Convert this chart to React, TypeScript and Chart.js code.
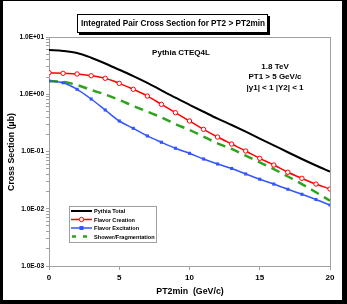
import React, { useEffect, useRef } from 'react';
import { Chart, registerables } from 'chart.js';

Chart.register(...registerables);

const pt2min = [0, 1, 2, 3, 4, 5, 6, 7, 8, 9, 10, 11, 12, 13, 14, 15, 16, 17, 18, 19, 20];
const pythiaTotal = [5.9, 5.7, 5.25, 4.35, 3.45, 2.68, 2.08, 1.58, 1.17, 0.87, 0.655, 0.495, 0.375, 0.29, 0.222, 0.168, 0.128, 0.097, 0.074, 0.057, 0.0445];
const flavorCreation = [2.38, 2.32, 2.26, 2.11, 1.9, 1.55, 1.22, 0.93, 0.667, 0.476, 0.341, 0.244, 0.179, 0.135, 0.102, 0.076, 0.058, 0.0434, 0.034, 0.027, 0.0221];
const flavorExcitation = [1.7, 1.59, 1.22, 0.826, 0.531, 0.341, 0.254, 0.187, 0.145, 0.114, 0.093, 0.074, 0.0605, 0.0505, 0.0405, 0.0328, 0.027, 0.0219, 0.0179, 0.0145, 0.0116];
const showerFragmentation = [1.7, 1.64, 1.45, 1.19, 0.99, 0.794, 0.624, 0.496, 0.395, 0.302, 0.238, 0.182, 0.139, 0.111, 0.0845, 0.0647, 0.0494, 0.0366, 0.027, 0.0194, 0.0138];

const xTicks = [0, 5, 10, 15, 20];
const yDecades = [0.001, 0.01, 0.1, 1, 10];
const yTickLabels = ['1.0E-03', '1.0E-02', '1.0E-01', '1.0E+00', '1.0E+01'];
const yMinorMultipliers = [2, 3, 4, 5, 6, 7, 8, 9];

const seriesNames = ['Pythia Total', 'Flavor Creation', 'Flavor Excitation', 'Shower/Fragmentation'];
const seriesColors = ['#000000', '#ff0000', '#3355ff', '#2ea31e'];

const titleText = 'Integrated Pair Cross Section for PT2 > PT2min';
const xTitle = 'PT2min  (GeV/c)';
const yTitle = 'Cross Section (\u00b5b)';
const modelText = 'Pythia CTEQ4L';
const cutTexts = ['1.8 TeV', 'PT1 > 5 GeV/c', '|y1| < 1 |Y2| < 1'];

const FONT = '"Liberation Sans", Arial, sans-serif';

const decorPlugin = {
  id: 'decor',
  beforeDatasetsDraw(chart: any) {
    const { ctx, chartArea: a } = chart;
    ctx.save();
    ctx.strokeStyle = '#a0a0a0';
    ctx.lineWidth = 1;
    ctx.strokeRect(Math.round(a.left) + 0.5, Math.round(a.top) + 0.5, Math.round(a.right - a.left), Math.round(a.bottom - a.top));
    ctx.restore();
  },
  afterDraw(chart: any) {
    const { ctx } = chart;
    const W = chart.width;
    const H = chart.height;
    ctx.save();
    // outer frame
    ctx.fillStyle = '#000';
    ctx.fillRect(0, 0, W, 1);
    ctx.fillRect(0, 0, 3, H);
    ctx.fillRect(0, H - 4, W, 4);
    ctx.fillRect(W - 5, 0, 5, H);

    // title box
    ctx.fillStyle = '#fff';
    ctx.fillRect(77, 14, 191, 18);
    ctx.strokeStyle = '#000';
    ctx.lineWidth = 1;
    ctx.strokeRect(77.5, 14.5, 190, 18);
    ctx.fillStyle = '#000';
    ctx.fillRect(268, 16, 2, 19);
    ctx.fillRect(79, 33, 191, 2);
    ctx.font = `bold 8.2px ${FONT}`;
    ctx.textAlign = 'center';
    ctx.textBaseline = 'middle';
    ctx.fillText(titleText, 173, 24);

    // annotations
    ctx.font = `bold 8px ${FONT}`;
    ctx.fillText(modelText, 181, 53);
    ctx.fillText(cutTexts[0], 275, 66.5);
    ctx.fillText(cutTexts[1], 275, 77);
    ctx.fillText(cutTexts[2], 275, 88);

    // axis titles
    ctx.font = `bold 8.8px ${FONT}`;
    ctx.fillText(xTitle, 190, 292);
    ctx.save();
    ctx.translate(12, 152);
    ctx.rotate(-Math.PI / 2);
    ctx.fillText(yTitle, 0, 0);
    ctx.restore();

    // legend
    const lx = 69, ly = 206, lw = 87, lh = 36;
    ctx.fillStyle = '#fff';
    ctx.fillRect(lx, ly, lw, lh);
    ctx.strokeStyle = '#a0a0a0';
    ctx.strokeRect(lx + 0.5, ly + 0.5, lw, lh);
    ctx.font = `bold 5.6px ${FONT}`;
    ctx.textAlign = 'left';
    const rows = [211, 219.5, 228, 236.5];
    seriesNames.forEach((name, i) => {
      const y = rows[i];
      ctx.strokeStyle = seriesColors[i];
      ctx.lineWidth = i === 3 ? 2.5 : i === 0 ? 2 : 1.5;
      ctx.setLineDash(i === 3 ? [4, 7] : []);
      ctx.beginPath();
      ctx.moveTo(i === 3 ? 72 : 71, y);
      ctx.lineTo(92, y);
      ctx.stroke();
      ctx.setLineDash([]);
      if (i === 1) {
        ctx.fillStyle = '#fff';
        ctx.lineWidth = 1;
        ctx.beginPath();
        ctx.arc(81.5, y, 2.2, 0, Math.PI * 2);
        ctx.fill();
        ctx.stroke();
      } else if (i === 2) {
        ctx.fillStyle = seriesColors[2];
        ctx.fillRect(79.5, y - 2, 4, 4);
      }
      ctx.fillStyle = '#000';
      ctx.fillText(name, 94, y + 0.5);
    });
    ctx.restore();
  },
};

export default function App() {
  const ref = useRef<HTMLCanvasElement | null>(null);
  useEffect(() => {
    document.body.style.margin = '0';
    const canvas = ref.current;
    if (!canvas) return;
    const mk = (vals: number[]) => pt2min.map((x, i) => ({ x, y: vals[i] }));
    const chart = new Chart(canvas, {
      type: 'line',
      data: {
        datasets: [
          {
            label: seriesNames[0],
            data: mk(pythiaTotal),
            borderColor: seriesColors[0],
            borderWidth: 2,
            pointRadius: 0,
            cubicInterpolationMode: 'monotone',
          },
          {
            label: seriesNames[1],
            data: mk(flavorCreation),
            borderColor: seriesColors[1],
            borderWidth: 1.5,
            pointRadius: 2.2,
            pointStyle: 'circle',
            pointBackgroundColor: '#fff',
            pointBorderColor: seriesColors[1],
            pointBorderWidth: 1,
            cubicInterpolationMode: 'monotone',
          },
          {
            label: seriesNames[2],
            data: mk(flavorExcitation),
            borderColor: seriesColors[2],
            borderWidth: 1.5,
            pointRadius: 2.2,
            pointStyle: 'rect',
            pointBackgroundColor: seriesColors[2],
            pointBorderColor: seriesColors[2],
            pointBorderWidth: 0,
            cubicInterpolationMode: 'monotone',
          },
          {
            label: seriesNames[3],
            data: mk(showerFragmentation),
            borderColor: seriesColors[3],
            borderWidth: 2.5,
            borderDash: [9, 6],
            pointRadius: 0,
            cubicInterpolationMode: 'monotone',
          },
        ],
      },
      options: {
        responsive: false,
        animation: false,
        layout: { padding: { left: 0, right: 17, top: 37, bottom: 0 } },
        plugins: { legend: { display: false }, title: { display: false }, tooltip: { enabled: false } },
        scales: {
          x: {
            type: 'linear',
            min: 0,
            max: 20,
            afterFit: (s: any) => { s.height = 38; },
            afterBuildTicks: (s: any) => { s.ticks = xTicks.map((v) => ({ value: v })); },
            ticks: {
              color: '#000',
              font: { family: FONT, size: 8, weight: 'bold' },
              padding: 3,
              maxRotation: 0,
              autoSkip: false,
            },
            grid: { display: true, drawOnChartArea: false, tickLength: 4, color: '#a0a0a0' },
            border: { color: '#a0a0a0' },
          },
          y: {
            type: 'logarithmic',
            min: 0.001,
            max: 10,
            afterFit: (s: any) => { s.width = 49; },
            afterBuildTicks: (s: any) => {
              const t: any[] = [];
              yDecades.forEach((d, i) => {
                t.push({ value: d, major: true });
                if (i < yDecades.length - 1) yMinorMultipliers.forEach((m) => t.push({ value: d * m, major: false }));
              });
              s.ticks = t;
            },
            ticks: {
              color: '#000',
              font: { family: FONT, size: 6.5, weight: 'bold' },
              padding: 2,
              autoSkip: false,
              callback: (v: any) => {
                const idx = yDecades.findIndex((d) => Math.abs(d - Number(v)) / d < 1e-6);
                return idx >= 0 ? yTickLabels[idx] : '';
              },
            },
            grid: { display: true, drawOnChartArea: false, tickLength: 3, color: '#a0a0a0' },
            border: { color: '#a0a0a0' },
          },
        },
      },
      plugins: [decorPlugin],
    });
    return () => chart.destroy();
  }, []);
  return (
    <div style={{ width: 347, height: 304, background: '#fff' }}>
      <canvas ref={ref} width={347} height={304} style={{ display: 'block', width: 347, height: 304 }} />
    </div>
  );
}
